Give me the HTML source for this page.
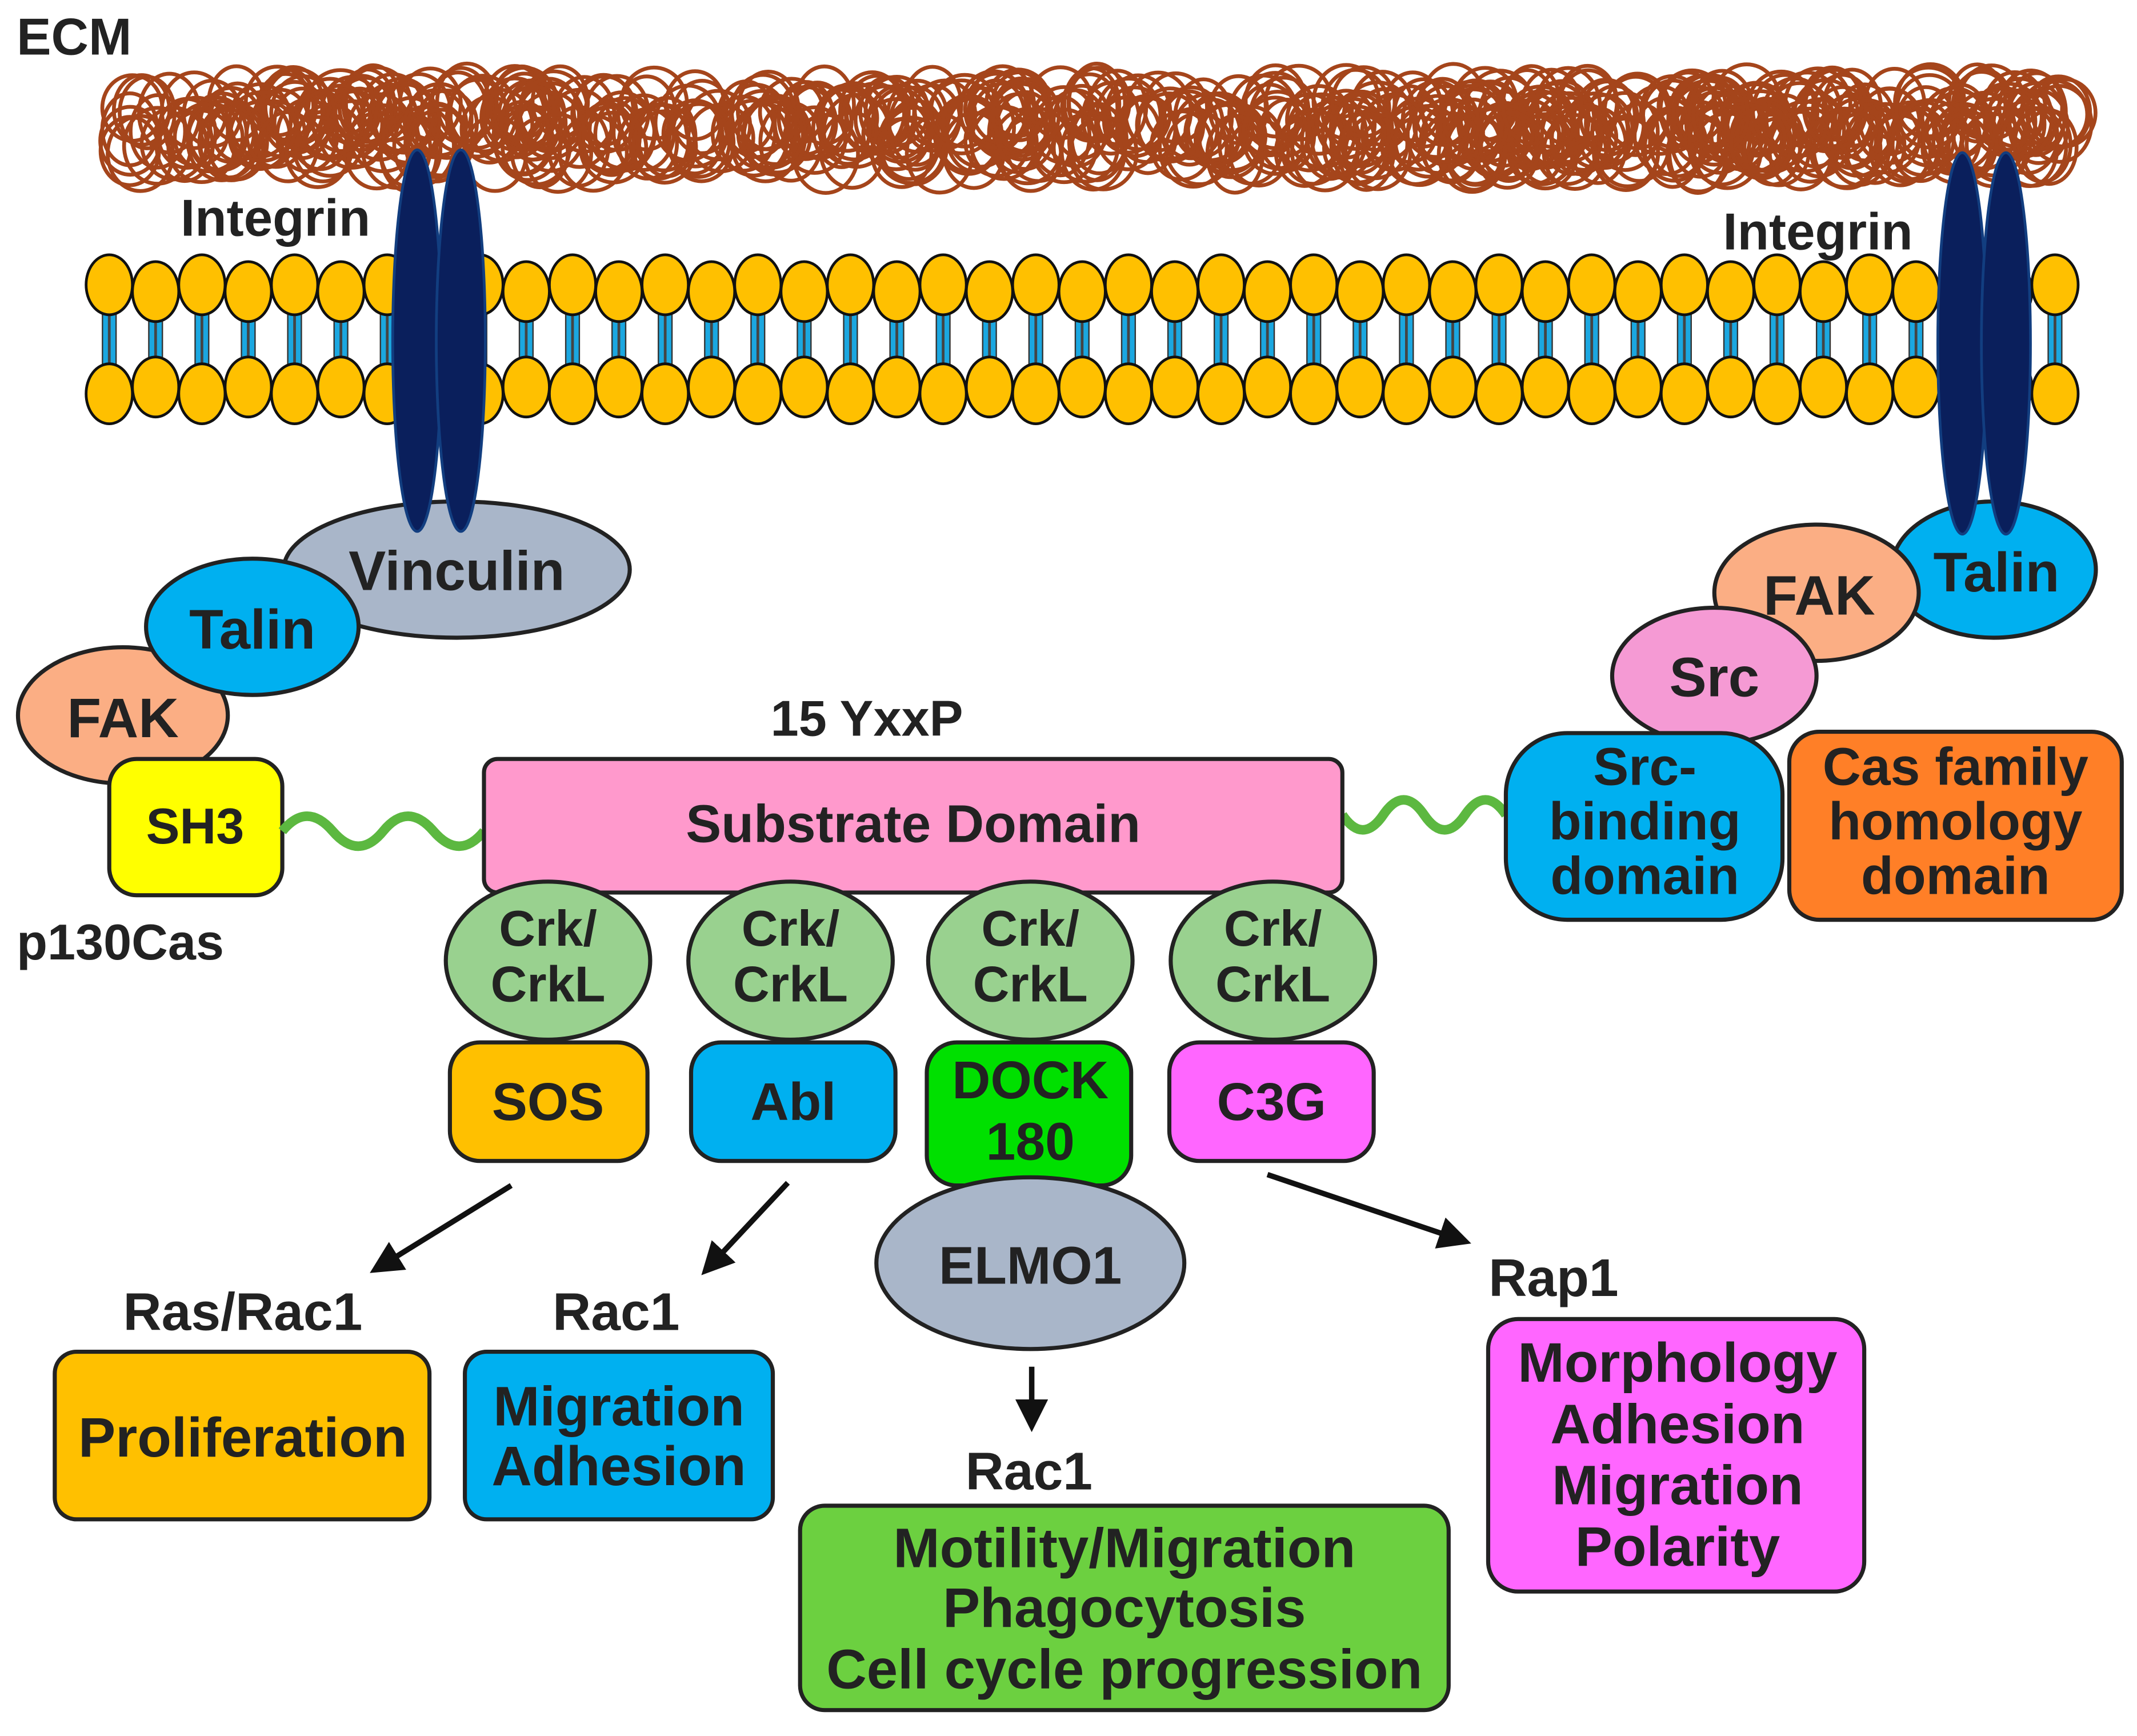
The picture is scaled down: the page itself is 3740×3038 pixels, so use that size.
<!DOCTYPE html>
<html><head><meta charset="utf-8"><style>
html,body{margin:0;padding:0;background:#fff;}
svg{display:block;}
text{font-family:"Liberation Sans",Arial,sans-serif;font-weight:bold;fill:#222;text-anchor:middle;}
</style></head><body>
<svg id="s" width="3740" height="3038" viewBox="0 0 1568 1274" xmlns="http://www.w3.org/2000/svg">
<g id="ecm" fill="none" stroke="#a5451b" stroke-width="2.8"></g>
<g id="mem"></g>
<text x="12" y="40" style="text-anchor:start" font-size="38">ECM</text>
<text x="202" y="173" font-size="38">Integrin</text>
<text x="1334" y="183" font-size="38">Integrin</text>

<g stroke="#222" stroke-width="3">
<ellipse cx="335" cy="418" rx="127" ry="50" fill="#a9b6c9"/>
<ellipse cx="90" cy="525" rx="77" ry="50" fill="#fbae84"/>
<ellipse cx="185" cy="460" rx="78" ry="50" fill="#00b0f0"/>
<rect x="80" y="557" width="127" height="100" rx="20" fill="#ffff00"/>
</g>
<g fill="#0a1f5c" stroke="#123e80" stroke-width="2">
<ellipse cx="306" cy="250" rx="18" ry="140"/>
<ellipse cx="338" cy="250" rx="18" ry="140"/>
</g>
<text x="335" y="433" font-size="41">Vinculin</text>
<text x="185" y="476" font-size="41">Talin</text>
<text x="90" y="541" font-size="41">FAK</text>
<text x="143" y="619" font-size="37">SH3</text>
<text x="12" y="704" style="text-anchor:start" font-size="37">p130Cas</text>

<path d="M207 610 q18 -22 37 0 t37 0 t37 0 t37 0" fill="none" stroke="#5cb840" stroke-width="7"/>
<path d="M985 598 q15 22 30 0 t30 0 t30 0 t30 0" fill="none" stroke="#5cb840" stroke-width="7"/>

<text x="636" y="540" font-size="37">15 YxxP</text>
<rect x="355" y="557" width="630" height="98" rx="10" fill="#ff99cc" stroke="#222" stroke-width="3"/>
<text x="670" y="618" font-size="39">Substrate Domain</text>

<g stroke="#222" stroke-width="3" fill="#99d18f">
<ellipse cx="402" cy="705" rx="75" ry="58"/>
<ellipse cx="580" cy="705" rx="75" ry="58"/>
<ellipse cx="756" cy="705" rx="75" ry="58"/>
<ellipse cx="934" cy="705" rx="75" ry="58"/>
</g>
<g font-size="37">
<text x="402" y="694">Crk/</text><text x="402" y="735">CrkL</text>
<text x="580" y="694">Crk/</text><text x="580" y="735">CrkL</text>
<text x="756" y="694">Crk/</text><text x="756" y="735">CrkL</text>
<text x="934" y="694">Crk/</text><text x="934" y="735">CrkL</text>
</g>
<g stroke="#222" stroke-width="3">
<rect x="330" y="765" width="145" height="87" rx="22" fill="#ffc000"/>
<rect x="507" y="765" width="150" height="87" rx="22" fill="#00b0f0"/>
<rect x="680" y="765" width="150" height="105" rx="22" fill="#00e000"/>
<rect x="858" y="765" width="150" height="87" rx="22" fill="#ff66ff"/>
<ellipse cx="756" cy="927" rx="113" ry="63" fill="#a9b6c9"/>
</g>
<g font-size="39">
<text x="402" y="822">SOS</text>
<text x="582" y="822">Abl</text>
<text x="756" y="806">DOCK</text>
<text x="756" y="851">180</text>
<text x="933" y="822">C3G</text>
<text x="756" y="942">ELMO1</text>
</g>

<defs><marker id="ar" markerWidth="6" markerHeight="6" refX="4" refY="3" orient="auto" markerUnits="strokeWidth"><path d="M0,0 L6,3 L0,6 z" fill="#111"/></marker></defs>
<g stroke="#111" stroke-width="4" marker-end="url(#ar)">
<line x1="375" y1="870" x2="278" y2="930"/>
<line x1="578" y1="868" x2="520" y2="930"/>
<line x1="757" y1="1003" x2="757" y2="1043"/>
<line x1="930" y1="862" x2="1072" y2="910"/>
</g>
<g font-size="39">
<text x="178" y="976">Ras/Rac1</text>
<text x="452" y="976">Rac1</text>
<text x="755" y="1093">Rac1</text>
<text x="1140" y="951">Rap1</text>
</g>
<g stroke="#222" stroke-width="3">
<rect x="40" y="992" width="275" height="123" rx="16" fill="#ffc000"/>
<rect x="341" y="992" width="226" height="123" rx="16" fill="#00b0f0"/>
<rect x="587" y="1105" width="476" height="150" rx="18" fill="#6cd040"/>
<rect x="1092" y="968" width="276" height="200" rx="22" fill="#ff66ff"/>
</g>
<g font-size="41">
<text x="178" y="1069">Proliferation</text>
<text x="454" y="1046">Migration</text>
<text x="454" y="1090">Adhesion</text>
<text x="825" y="1150">Motility/Migration</text>
<text x="825" y="1194">Phagocytosis</text>
<text x="825" y="1239">Cell cycle progression</text>
<text x="1231" y="1014">Morphology</text>
<text x="1231" y="1059">Adhesion</text>
<text x="1231" y="1104">Migration</text>
<text x="1231" y="1149">Polarity</text>
</g>

<g stroke="#222" stroke-width="3">
<ellipse cx="1463" cy="418" rx="75" ry="50" fill="#00b0f0"/>
<ellipse cx="1333" cy="435" rx="75" ry="50" fill="#fbae84"/>
<ellipse cx="1258" cy="496" rx="75" ry="50" fill="#f59ad4"/>
<rect x="1105" y="538" width="203" height="137" rx="45" fill="#00b0f0"/>
<rect x="1313" y="537" width="244" height="138" rx="22" fill="#ff7f27"/>
</g>
<g fill="#0a1f5c" stroke="#123e80" stroke-width="2">
<ellipse cx="1440" cy="252" rx="18" ry="140"/>
<ellipse cx="1472" cy="252" rx="18" ry="140"/>
</g>
<text x="1465" y="434" font-size="41">Talin</text>
<text x="1335" y="451" font-size="41">FAK</text>
<text x="1258" y="511" font-size="41">Src</text>
<g font-size="39">
<text x="1207" y="576">Src-</text>
<text x="1207" y="616">binding</text>
<text x="1207" y="656">domain</text>
<text x="1435" y="576">Cas family</text>
<text x="1435" y="616">homology</text>
<text x="1435" y="656">domain</text>
</g>
</svg>
<script>
(function(){
var NS="http://www.w3.org/2000/svg";
var ecm=document.getElementById("ecm"),mem=document.getElementById("mem");
var seed=7;function r(){seed=(seed*16807)%2147483647;return seed/2147483647;}
for(var i=0;i<480;i++){
 var c=document.createElementNS(NS,"ellipse");
 var x=95+r()*1425,y=74+r()*40;
 c.setAttribute("cx",x);c.setAttribute("cy",y);
 c.setAttribute("rx",20+r()*5);c.setAttribute("ry",24+r()*5);
 ecm.appendChild(c);
}
var h="";
for(var x=80;x<1530;x+=34){
 h+='<rect x="'+(x-5)+'" y="228" width="10" height="40" fill="#1ba7e0" stroke="#333" stroke-width="1"/>';
 h+='<line x1="'+x+'" y1="228" x2="'+x+'" y2="268" stroke="#444" stroke-width="2"/>';
}
var k=0;
for(var x=80;x<1530;x+=34){
 var dy=(k%2)?3:-2;k++;
 h+='<ellipse cx="'+x+'" cy="'+(211+dy)+'" rx="17" ry="22" fill="#ffc000" stroke="#111" stroke-width="2"/>';
 h+='<ellipse cx="'+x+'" cy="'+(287-dy)+'" rx="17" ry="22" fill="#ffc000" stroke="#111" stroke-width="2"/>';
}
mem.innerHTML=h;
})();
</script>
</body></html>
